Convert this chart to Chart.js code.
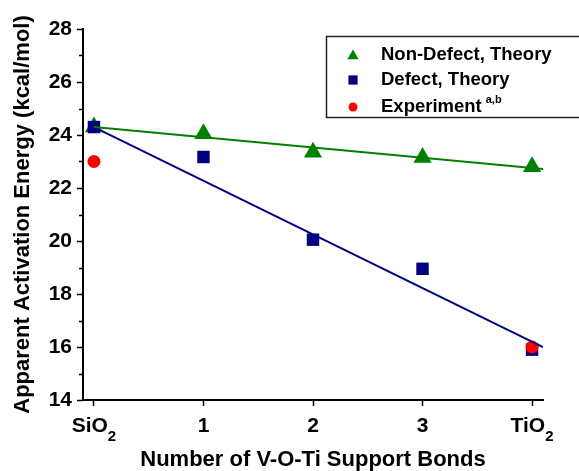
<!DOCTYPE html>
<html>
<head>
<meta charset="utf-8">
<script src="https://cdn.jsdelivr.net/npm/chart.js@4.4.1/dist/chart.umd.min.js"></script>
<style>
  html, body { margin: 0; padding: 0; background: #fff; }
  #wrap { width: 579px; height: 471px; position: relative; }
</style>
</head>
<body>
<div id="wrap"><canvas id="chart"></canvas></div>
<script>
// categorias do eixo x (posição 0..4)
const categories = ['SiO2', '1', '2', '3', 'TiO2'];
const bondCounts = [0, 1, 2, 3, 4];

// valores (kcal/mol)
const nonDefect  = [24.3, 24.05, 23.35, 23.15, 22.8];
const defect     = [24.3, 23.17, 20.05, 18.95, 15.9];
const expX       = [0, 4];
const experiment = [23.0, 16.0];

// retas de ajuste (extremos)
const fitX         = [0, 4.1];
const nonDefectFit = [24.3, 22.72];
const defectFit    = [24.3, 16.0];

// eixo y
const yMajor = [14, 16, 18, 20, 22, 24, 26, 28];
const yMinor = [15, 17, 19, 21, 23, 25, 27];

const legendLabels = ['Non-Defect, Theory', 'Defect, Theory', 'Experiment'];

const COLORS = { green: '#008000', navy: '#000080', red: '#ff0000' };
const FONT = "'Liberation Sans', Arial, sans-serif";

const pts = (xs, ys) => xs.map((x, i) => ({ x, y: ys[i] }));

/* ── ticks menores no eixo y ─────────────────────────────── */
const minorTicks = {
  id: 'minorTicks',
  afterDraw(chart) {
    const { ctx } = chart;
    const y = chart.scales.y;
    ctx.save();
    ctx.strokeStyle = '#000';
    ctx.lineWidth = 1.5;
    yMinor.forEach(v => {
      const py = Math.round(y.getPixelForValue(v)) + 0.5;
      ctx.beginPath();
      ctx.moveTo(y.right - 4, py);
      ctx.lineTo(y.right, py);
      ctx.stroke();
    });
    ctx.restore();
  },
};

/* ── rótulos do eixo x com subscrito ─────────────────────── */
const xLabels = {
  id: 'xLabels',
  afterDraw(chart) {
    const { ctx } = chart;
    const x = chart.scales.x;
    ctx.save();
    ctx.fillStyle = '#000';
    ctx.textBaseline = 'middle';
    categories.forEach((lab, i) => {
      const m = lab.match(/^(.*?[A-Za-z])(\d+)$/);
      const main = m ? m[1] : lab;
      const sub = m ? m[2] : '';
      ctx.font = `bold 21px ${FONT}`;
      const wMain = ctx.measureText(main).width;
      ctx.font = `bold 15px ${FONT}`;
      const wSub = sub ? ctx.measureText(sub).width : 0;
      const px = x.getPixelForValue(bondCounts[i]);
      const start = px - (wMain + wSub) / 2;
      ctx.textAlign = 'left';
      ctx.font = `bold 21px ${FONT}`;
      ctx.fillText(main, start, 426);
      if (sub) {
        ctx.font = `bold 15px ${FONT}`;
        ctx.fillText(sub, start + wMain, 437);
      }
    });
    ctx.restore();
  },
};

/* ── legenda em caixa ────────────────────────────────────── */
const boxLegend = {
  id: 'boxLegend',
  afterDraw(chart) {
    const { ctx } = chart;
    ctx.save();
    ctx.strokeStyle = '#222';
    ctx.lineWidth = 1.5;
    ctx.strokeRect(326.5, 36.5, 300, 81);
    const rows = [55, 80, 107];
    const styles = [
      { style: 'triangle', r: 6.5, color: COLORS.green },
      { style: 'rect', r: 6.5, color: COLORS.navy },
      { style: 'circle', r: 4.5, color: COLORS.red },
    ];
    rows.forEach((ry, i) => {
      const s = styles[i];
      ctx.fillStyle = s.color;
      Chart.helpers.drawPoint(ctx, { pointStyle: s.style, radius: s.r, borderWidth: 0 }, 353, ry + (s.style === 'triangle' ? 1 : 0));
      ctx.fillStyle = '#000';
      ctx.font = `bold 18.5px ${FONT}`;
      ctx.textAlign = 'left';
      ctx.textBaseline = 'middle';
      ctx.fillText(legendLabels[i], 381, ry);
      if (i === 2) {
        const w = ctx.measureText(legendLabels[i]).width;
        ctx.font = `bold 11px ${FONT}`;
        ctx.fillText('a,b', 381 + w + 4, ry - 7);
      }
    });
    ctx.restore();
  },
};

new Chart(document.getElementById('chart'), {
  type: 'scatter',
  data: {
    datasets: [
      { label: 'fitND', type: 'line', data: pts(fitX, nonDefectFit), borderColor: COLORS.green, borderWidth: 2, pointRadius: 0, order: 0 },
      { label: 'fitD', type: 'line', data: pts(fitX, defectFit), borderColor: COLORS.navy, borderWidth: 2, pointRadius: 0, order: 0 },
      { label: legendLabels[2], data: pts(expX, experiment), pointStyle: 'circle', pointRadius: 6.5, backgroundColor: COLORS.red, borderWidth: 0, order: 1 },
      { label: legendLabels[1], data: pts(bondCounts, defect), pointStyle: 'rect', pointRadius: 8.8, backgroundColor: COLORS.navy, borderWidth: 0, order: 2 },
      { label: legendLabels[0], data: pts(bondCounts, nonDefect), pointStyle: 'triangle', pointRadius: 10.5, backgroundColor: COLORS.green, borderWidth: 0, order: 3 },
    ],
  },
  options: {
    responsive: true,
    maintainAspectRatio: false,
    animation: false,
    layout: { padding: { left: 0, right: 36, top: 29, bottom: 0 } },
    plugins: { legend: { display: false }, tooltip: { enabled: false } },
    scales: {
      x: {
        type: 'linear',
        min: -0.1,
        max: 4.1,
        afterBuildTicks: s => { s.ticks = bondCounts.map(v => ({ value: v })); },
        afterFit: s => { s.height = 71; },
        ticks: { callback: () => '', padding: 0 },
        grid: { drawOnChartArea: false, tickLength: 6, tickWidth: 1.5, color: '#000' },
        border: { color: '#000', width: 2 },
        title: { display: true, text: 'Number of V-O-Ti Support Bonds', color: '#000', font: { family: FONT, size: 22, weight: 'bold', lineHeight: 1 }, padding: { top: 0, bottom: 0 } },
      },
      y: {
        min: 14,
        max: 28,
        afterBuildTicks: s => { s.ticks = yMajor.map(v => ({ value: v })); },
        afterFit: s => { s.width = 83; },
        ticks: { color: '#000', font: { family: FONT, size: 21, weight: 'bold' }, padding: 5 },
        grid: { drawOnChartArea: false, tickLength: 6, tickWidth: 1.5, color: '#000' },
        border: { color: '#000', width: 2 },
        title: { display: true, text: 'Apparent Activation Energy (kcal/mol)', color: '#000', font: { family: FONT, size: 22, weight: 'bold', lineHeight: 1 }, padding: { top: 12, bottom: 0 } },
      },
    },
  },
  plugins: [minorTicks, xLabels, boxLegend],
});
</script>
</body>
</html>
